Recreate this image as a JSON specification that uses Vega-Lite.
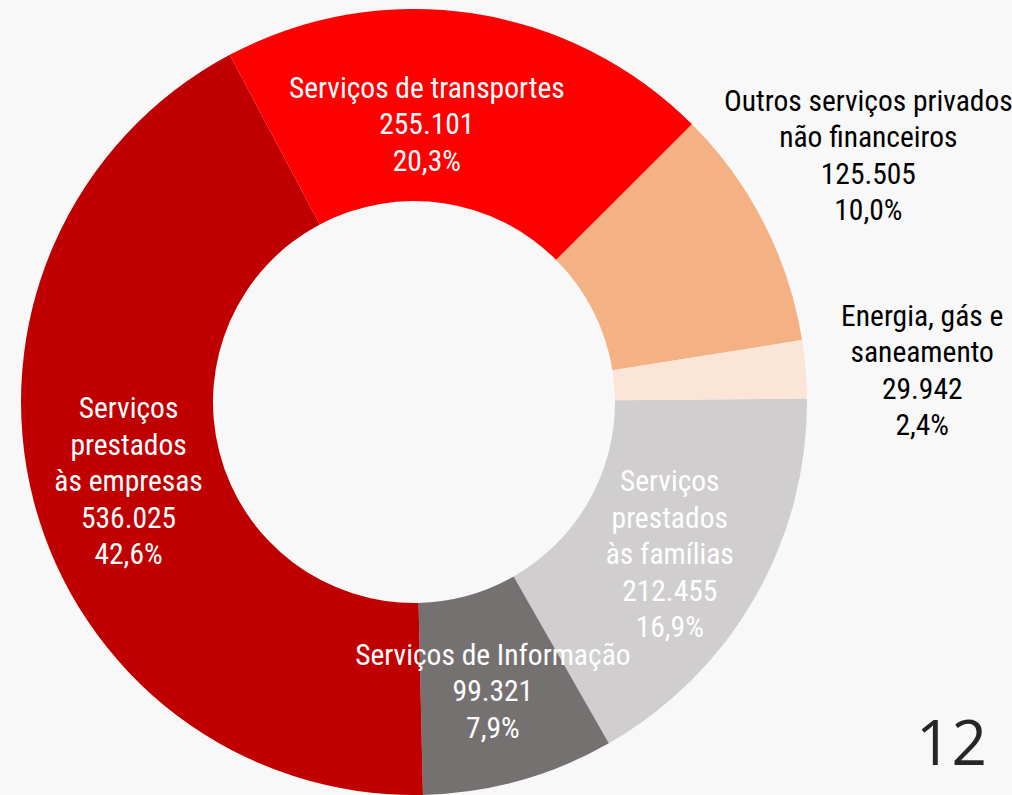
{
  "$schema": "https://vega.github.io/schema/vega-lite/v6.json",
  "width": 828,
  "height": 804,
  "autosize": {"type": "none"},
  "padding": {"left": 0, "top": 0, "right": 184, "bottom": 0},
  "background": "#f8f8f8",
  "title": {
    "text": "12",
    "orient": "bottom",
    "anchor": "end",
    "frame": "group",
    "offset": 0,
    "dx": 159,
    "dy": -88,
    "fontSize": 62,
    "font": "Open Sans",
    "fontWeight": "normal",
    "color": "#262626"
  },
  "data": {
    "values": [
      {"ord": 1, "setor": "Serviços prestados às famílias", "valor": 212455, "rotulo": "Serviços\nprestados\nàs famílias\n212.455\n16,9%"},
      {"ord": 2, "setor": "Serviços de Informação", "valor": 99321, "rotulo": "Serviços de Informação\n99.321\n7,9%"},
      {"ord": 3, "setor": "Serviços prestados às empresas", "valor": 536025, "rotulo": "Serviços\nprestados\nàs empresas\n536.025\n42,6%"},
      {"ord": 4, "setor": "Serviços de transportes", "valor": 255101, "rotulo": "Serviços de transportes\n255.101\n20,3%"},
      {"ord": 5, "setor": "Outros serviços privados não financeiros", "valor": 125505, "rotulo": "Outros serviços privados\nnão financeiros\n125.505\n10,0%"},
      {"ord": 6, "setor": "Energia, gás e saneamento", "valor": 29942, "rotulo": "Energia, gás e\nsaneamento\n29.942\n2,4%"}
    ]
  },
  "encoding": {
    "theta": {"field": "valor", "type": "quantitative", "stack": true, "scale": {"range": [1.5621, 7.8453]}},
    "order": {"field": "ord", "type": "quantitative"}
  },
  "layer": [
    {
      "mark": {"type": "arc", "innerRadius": 201, "outerRadius": 393},
      "encoding": {
        "color": {
          "field": "setor",
          "type": "nominal",
          "legend": null,
          "scale": {
            "domain": ["Serviços prestados às famílias", "Serviços de Informação", "Serviços prestados às empresas", "Serviços de transportes", "Outros serviços privados não financeiros", "Energia, gás e saneamento"],
            "range": ["#D0CECE", "#767171", "#C00000", "#FF0000", "#F4B183", "#FBE5D6"]
          }
        }
      }
    },
    {
      "mark": {
        "type": "text",
        "radius": {"expr": "datum.ord >= 5 ? 510 : 295"},
        "dx": {"expr": "datum.ord == 4 ? -31 : 0"},
        "dy": {"expr": "-(length(split(datum.rotulo, '\\n')) - 1) * 18.25 + (datum.ord == 4 ? 15 : datum.ord == 5 ? -14 : datum.ord == 6 ? 12 : 6)"},
        "font": "Liberation Sans Narrow, Arial Narrow, Roboto Condensed, Liberation Sans",
        "fontSize": 29.5,
        "lineHeight": 36.5,
        "lineBreak": "\n",
        "align": "center",
        "baseline": "middle"
      },
      "encoding": {
        "text": {"field": "rotulo", "type": "nominal"},
        "color": {"condition": {"test": "datum.ord >= 5", "value": "#000000"}, "value": "#ffffff"}
      }
    }
  ],
  "config": {"view": {"stroke": null}}
}
